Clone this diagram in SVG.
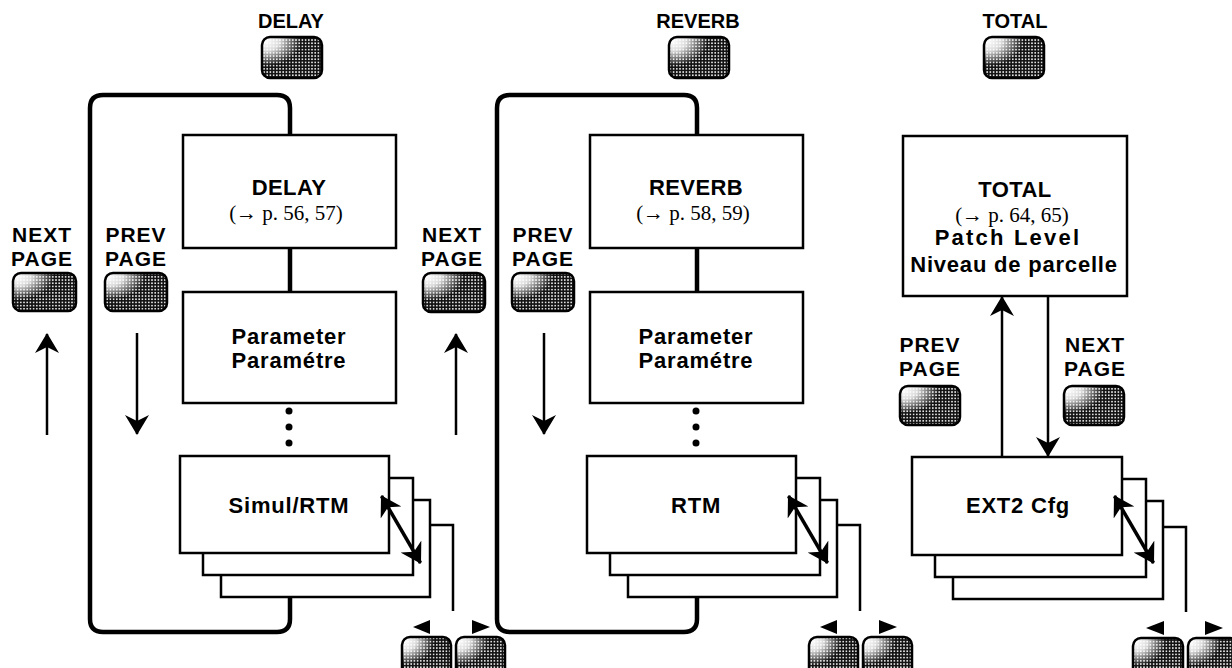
<svg xmlns="http://www.w3.org/2000/svg" width="1232" height="668" viewBox="0 0 1232 668">
  <defs>
    <!-- halftone dot texture for the hardware buttons -->
    <pattern id="dots" patternUnits="userSpaceOnUse" width="3.2" height="3.2">
      <rect width="3.2" height="3.2" fill="#111"/>
      <circle cx="1.6" cy="1.6" r="0.9" fill="#fff"/>
    </pattern>
    <!-- glossy highlight in the upper-left corner of each button -->
    <radialGradient id="shine" cx="0.05" cy="0.1" r="0.6" gradientUnits="objectBoundingBox">
      <stop offset="0" stop-color="#fff" stop-opacity="1"/>
      <stop offset="0.4" stop-color="#fff" stop-opacity="0.85"/>
      <stop offset="1" stop-color="#fff" stop-opacity="0"/>
    </radialGradient>
    <!-- barbed arrowhead -->
    <marker id="head" viewBox="0 0 20 24" refX="19" refY="12" markerWidth="20" markerHeight="24" markerUnits="userSpaceOnUse" orient="auto-start-reverse">
      <path d="M20,12 L0,0 L6,12 L0,24 Z" fill="#000"/>
    </marker>
  </defs>
  <style>
    .box { fill: #fff; stroke: #000; stroke-width: 2.5; }
    .loop { fill: none; stroke: #000; stroke-width: 4.5; stroke-linejoin: round; }
    .link { fill: none; stroke: #000; stroke-width: 2.5; }
    .arrow { fill: none; stroke: #000; stroke-width: 2.5; marker-end: url(#head); }
    .dbl { fill: none; stroke: #000; stroke-width: 3.5; marker-start: url(#head); marker-end: url(#head); }
    .btn-base { fill: url(#dots); stroke: none; }
    .btn-shine { fill: url(#shine); stroke: #000; stroke-width: 2.5; }
    .tri { fill: #000; }
    .dot { fill: #000; }
    .sans { font-family: "Liberation Sans", Arial, Helvetica, sans-serif; font-weight: bold; text-anchor: middle; fill: #000; }
    .key { font-size: 20px; }
    .nav { font-size: 21px; letter-spacing: 1px; }
    .title { font-size: 22px; letter-spacing: 0.4px; }
    .body { font-size: 22px; letter-spacing: 0.8px; }
    .wide { letter-spacing: 2.2px; }
    .ref { font-family: "Liberation Serif", "Times New Roman", serif; font-size: 21px; text-anchor: middle; fill: #000; }
  </style>

  <!-- connectors: page loops, flow lines and navigation arrows -->
  <g id="connectors">
    <path class="loop" d="M290,135 V108 Q290,95 277,95 H103 Q90,95 90,108 V619 Q90,632 103,632 H277 Q290,632 290,619 V597"/>
    <path class="loop" d="M290,248 V292"/>
    <path class="loop" d="M697,135 V108 Q697,95 684,95 H510 Q497,95 497,108 V619 Q497,632 510,632 H684 Q697,632 697,619 V597"/>
    <path class="loop" d="M697,248 V292"/>

    <path class="arrow" d="M47,435 V334"/>
    <path class="arrow" d="M137,333 V434"/>
    <path class="arrow" d="M456,435 V334"/>
    <path class="arrow" d="M544,333 V434"/>
    <path class="arrow" d="M1002,457 V297"/>
    <path class="arrow" d="M1048,296 V456"/>

    <path class="link" d="M399,525 H453 V611"/>
    <path class="link" d="M806,525 H860 V611"/>
    <path class="link" d="M1132,527 H1186 V612"/>
  </g>

  <!-- DELAY section -->
  <g id="key-delay">
    <text class="sans key" x="291" y="28">DELAY</text>
    <rect class="btn-base" x="262" y="37" width="60" height="41" rx="8"/>
    <rect class="btn-shine" x="262" y="37" width="60" height="41" rx="8"/>
  </g>
  <g id="node-delay">
    <rect class="box" x="183" y="135" width="213" height="113"/>
    <text class="sans title" x="289" y="195">DELAY</text>
    <text class="ref" x="286" y="220">(→ p. 56, 57)</text>
  </g>
  <g id="node-delay-param">
    <rect class="box" x="183" y="292" width="213" height="111"/>
    <text class="sans body" x="289" y="344">Parameter</text>
    <text class="sans body" x="289" y="368">Paramétre</text>
  </g>
  <g id="node-delay-more">
    <circle class="dot" cx="289" cy="411" r="3.5"/>
    <circle class="dot" cx="289" cy="427" r="3.5"/>
    <circle class="dot" cx="289" cy="443" r="3.5"/>
  </g>
  <g id="node-delay-simul">
    <rect class="box" x="221" y="500" width="209" height="97"/>
    <rect class="box" x="203" y="478" width="210" height="97"/>
    <rect class="box" x="180" y="456" width="209" height="97"/>
    <text class="sans body" x="289" y="513">Simul/RTM</text>
    <path class="dbl" d="M381.5,496 L420.5,563"/>
  </g>
  <g id="nav-next-left">
    <text class="sans nav" x="42" y="242">NEXT</text>
    <text class="sans nav" x="42" y="266">PAGE</text>
    <rect class="btn-base" x="13" y="273" width="63" height="38" rx="8"/>
    <rect class="btn-shine" x="13" y="273" width="63" height="38" rx="8"/>
  </g>
  <g id="nav-prev-delay">
    <text class="sans nav" x="136" y="242">PREV</text>
    <text class="sans nav" x="136" y="266">PAGE</text>
    <rect class="btn-base" x="105" y="273" width="62" height="38" rx="8"/>
    <rect class="btn-shine" x="105" y="273" width="62" height="38" rx="8"/>
  </g>
  <g id="nav-next-delay">
    <text class="sans nav" x="452" y="242">NEXT</text>
    <text class="sans nav" x="452" y="266">PAGE</text>
    <rect class="btn-base" x="423" y="273" width="62" height="39" rx="8"/>
    <rect class="btn-shine" x="423" y="273" width="62" height="39" rx="8"/>
  </g>
  <g id="cursor-delay">
    <path class="tri" d="M413,627 L430,620 L430,634 Z"/>
    <path class="tri" d="M490,627 L472,620 L472,634 Z"/>
    <rect class="btn-base" x="402" y="637" width="49" height="40" rx="8"/>
    <rect class="btn-shine" x="402" y="637" width="49" height="40" rx="8"/>
    <rect class="btn-base" x="456" y="637" width="49" height="40" rx="8"/>
    <rect class="btn-shine" x="456" y="637" width="49" height="40" rx="8"/>
  </g>

  <!-- REVERB section -->
  <g id="key-reverb">
    <text class="sans key" x="698" y="28">REVERB</text>
    <rect class="btn-base" x="669" y="37" width="60" height="41" rx="8"/>
    <rect class="btn-shine" x="669" y="37" width="60" height="41" rx="8"/>
  </g>
  <g id="node-reverb">
    <rect class="box" x="590" y="135" width="213" height="113"/>
    <text class="sans title" x="696" y="195">REVERB</text>
    <text class="ref" x="693" y="220">(→ p. 58, 59)</text>
  </g>
  <g id="node-reverb-param">
    <rect class="box" x="590" y="292" width="213" height="111"/>
    <text class="sans body" x="696" y="344">Parameter</text>
    <text class="sans body" x="696" y="368">Paramétre</text>
  </g>
  <g id="node-reverb-more">
    <circle class="dot" cx="696" cy="411" r="3.5"/>
    <circle class="dot" cx="696" cy="427" r="3.5"/>
    <circle class="dot" cx="696" cy="443" r="3.5"/>
  </g>
  <g id="node-reverb-rtm">
    <rect class="box" x="628" y="500" width="209" height="97"/>
    <rect class="box" x="610" y="478" width="210" height="97"/>
    <rect class="box" x="587" y="456" width="209" height="97"/>
    <text class="sans body" x="696" y="513">RTM</text>
    <path class="dbl" d="M788.5,496 L827.5,563"/>
  </g>
  <g id="nav-prev-reverb">
    <text class="sans nav" x="543" y="242">PREV</text>
    <text class="sans nav" x="543" y="266">PAGE</text>
    <rect class="btn-base" x="512" y="273" width="62" height="38" rx="8"/>
    <rect class="btn-shine" x="512" y="273" width="62" height="38" rx="8"/>
  </g>
  <g id="cursor-reverb">
    <path class="tri" d="M820,627 L837,620 L837,634 Z"/>
    <path class="tri" d="M897,627 L879,620 L879,634 Z"/>
    <rect class="btn-base" x="809" y="637" width="49" height="40" rx="8"/>
    <rect class="btn-shine" x="809" y="637" width="49" height="40" rx="8"/>
    <rect class="btn-base" x="863" y="637" width="49" height="40" rx="8"/>
    <rect class="btn-shine" x="863" y="637" width="49" height="40" rx="8"/>
  </g>

  <!-- TOTAL section -->
  <g id="key-total">
    <text class="sans key" x="1015" y="28">TOTAL</text>
    <rect class="btn-base" x="984" y="37" width="60" height="41" rx="8"/>
    <rect class="btn-shine" x="984" y="37" width="60" height="41" rx="8"/>
  </g>
  <g id="node-total">
    <rect class="box" x="903" y="136" width="224" height="160"/>
    <text class="sans title" x="1015" y="197">TOTAL</text>
    <text class="ref" x="1012" y="222">(→ p. 64, 65)</text>
    <text class="sans body wide" x="1008" y="245">Patch Level</text>
    <text class="sans body" x="1014" y="272">Niveau de parcelle</text>
  </g>
  <g id="nav-prev-total">
    <text class="sans nav" x="930" y="352">PREV</text>
    <text class="sans nav" x="930" y="376">PAGE</text>
    <rect class="btn-base" x="900" y="386" width="60" height="39" rx="8"/>
    <rect class="btn-shine" x="900" y="386" width="60" height="39" rx="8"/>
  </g>
  <g id="nav-next-total">
    <text class="sans nav" x="1095" y="352">NEXT</text>
    <text class="sans nav" x="1095" y="376">PAGE</text>
    <rect class="btn-base" x="1064" y="386" width="60" height="39" rx="8"/>
    <rect class="btn-shine" x="1064" y="386" width="60" height="39" rx="8"/>
  </g>
  <g id="node-total-ext2">
    <rect class="box" x="953" y="501" width="210" height="98"/>
    <rect class="box" x="935" y="479" width="211" height="98"/>
    <rect class="box" x="912" y="457" width="210" height="98"/>
    <text class="sans body" x="1018" y="513">EXT2 Cfg</text>
    <path class="dbl" d="M1114.5,496 L1153.5,563"/>
  </g>
  <g id="cursor-total">
    <path class="tri" d="M1146,628 L1164,621 L1164,635 Z"/>
    <path class="tri" d="M1223,628 L1205,621 L1205,635 Z"/>
    <rect class="btn-base" x="1133" y="638" width="50" height="40" rx="8"/>
    <rect class="btn-shine" x="1133" y="638" width="50" height="40" rx="8"/>
    <rect class="btn-base" x="1188" y="638" width="50" height="40" rx="8"/>
    <rect class="btn-shine" x="1188" y="638" width="50" height="40" rx="8"/>
  </g>
</svg>
